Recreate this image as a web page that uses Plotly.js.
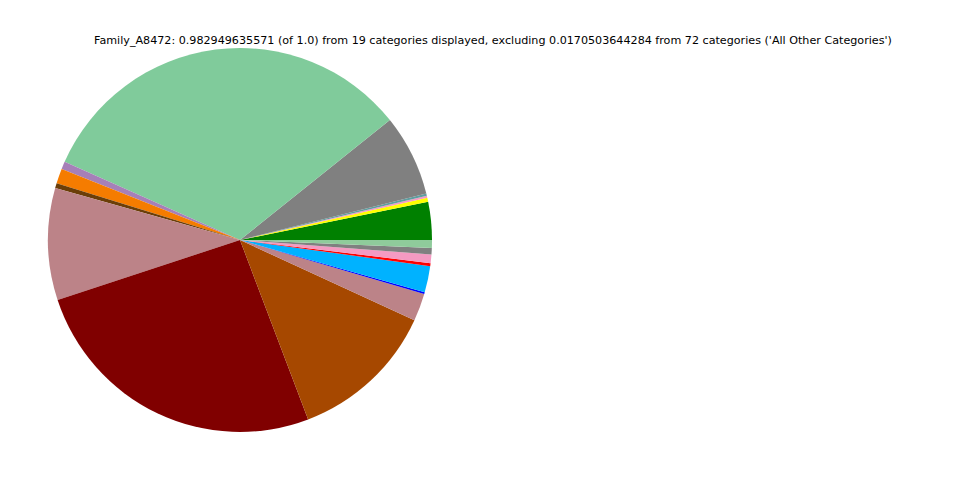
<!DOCTYPE html>
<html>
<head>
<meta charset="utf-8">
<script src="https://cdn.plot.ly/plotly-3.0.1.min.js"></script>
<style>html,body{margin:0;padding:0;background:#fff;}#chart{width:960px;height:480px;}</style>
</head>
<body>
<div id="chart"></div>
<script>
const categories = ["Cat_01","Cat_02","Cat_03","Cat_04","Cat_05","Cat_06","Cat_07","Cat_08","Cat_09","Cat_10",
                    "Cat_11","Cat_12","Cat_13","Cat_14","Cat_15","Cat_16","Cat_17","Cat_18","Cat_19"];
const values = [0.0314,0.0033,0.0016,0.0019,0.0674,0.3203,0.0063,0.0123,0.0041,0.0926,
                0.2528,0.1215,0.0229,0.0014,0.0218,0.0025,0.0071,0.0052,0.0066];
const colors = ["#008000","#ffff00","#f49ac2","#5f9ea0","#808080","#80cb9b","#a680b8","#f57c00","#6b3e08","#bc8388",
                "#800000","#a64800","#bc8388","#0000ff","#00b2ff","#ff0000","#f49ac2","#808080","#8fcb9b"];
const titleText = "Family_A8472: 0.982949635571 (of 1.0) from 19 categories displayed, excluding 0.0170503644284 from 72 categories ('All Other Categories')";

const total = values.reduce((a, b) => a + b, 0);
const firstAngle = values[0] / total * 360;

const trace = {
  type: "pie",
  labels: categories,
  values: values,
  marker: {colors: colors, line: {width: 0}},
  sort: false,
  direction: "counterclockwise",
  rotation: 90 - firstAngle,
  textinfo: "none",
  hoverinfo: "none",
  showlegend: false,
  domain: {x: [0.05, 0.45], y: [0.1, 0.9]}
};
const layout = {
  width: 960, height: 480,
  margin: {l: 0, r: 0, t: 0, b: 0},
  paper_bgcolor: "#ffffff",
  showlegend: false,
  title: {text: titleText, font: {family: "DejaVu Sans", size: 11.15, color: "#000"},
          x: 0.5135, xanchor: "center", xref: "paper", y: 0.916, yanchor: "middle", yref: "paper"}
};
Plotly.newPlot("chart", [trace], layout, {staticPlot: true, displayModeBar: false});
</script>
</body>
</html>
